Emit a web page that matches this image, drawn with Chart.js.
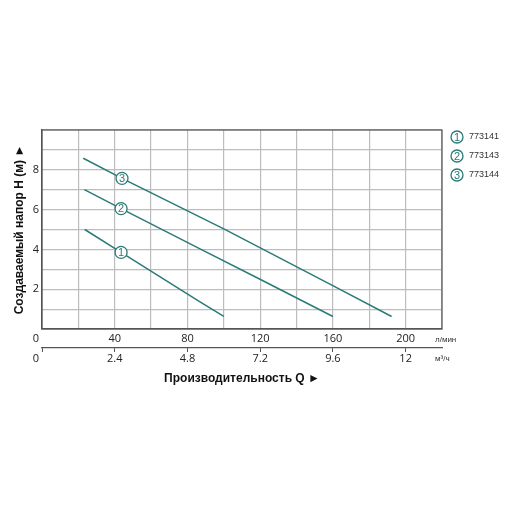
<!DOCTYPE html>
<html>
<head>
<meta charset="utf-8">
<script src="https://cdn.jsdelivr.net/npm/chart.js@4/dist/chart.umd.min.js"></script>
<style>
  html, body { margin: 0; padding: 0; background: #fff; }
</style>
</head>
<body>
<canvas id="pumpChart" width="512" height="512"></canvas>
<script>
const models = ["773141", "773143", "773144"];

// расход, л/мин и напор, м (читано с графика)
const q1 = [23.5, 43.5, 86.9, 100];
const h1 = [5.0, 3.85, 1.36, 0.63];
const q2 = [23.3, 43.5, 86.9, 119.9, 160];
const h2 = [7.0, 6.05, 4.03, 2.5, 0.63];
const q3 = [22.7, 44, 100, 160.2, 192.3];
const h3 = [8.58, 7.57, 5.03, 2.17, 0.63];

const lpmTicks = [40, 80, 120, 160, 200];
const m3hTicks = [0, 2.4, 4.8, 7.2, 9.6, 12];
const headTicks = [2, 4, 6, 8];
const markerQ = [43.5, 43.5, 44];

const teal = "#2a7a78";
const curves = [[q1, h1], [q2, h2], [q3, h3]];

function toPoints(q, h) {
  return q.map((v, i) => ({ x: v, y: h[i] }));
}

// y on the curve at given q, only to put the number circle on the line
function yAt(q, h, x) {
  for (let i = 0; i < q.length - 1; i++) {
    if (x >= q[i] && x <= q[i + 1]) {
      return h[i] + (h[i + 1] - h[i]) * (x - q[i]) / (q[i + 1] - q[i]);
    }
  }
  return h[0];
}

function numCircle(ctx, x, y, n) {
  ctx.beginPath();
  ctx.arc(x, y, 6, 0, Math.PI * 2);
  ctx.fillStyle = "#fff";
  ctx.fill();
  ctx.lineWidth = 1.3;
  ctx.strokeStyle = teal;
  ctx.stroke();
  ctx.fillStyle = teal;
  ctx.font = "11px 'Liberation Sans', Arial, sans-serif";
  ctx.textAlign = "center";
  ctx.textBaseline = "middle";
  ctx.fillText(String(n), x, y + 0.5);
}

const extras = {
  id: "extras",
  afterDatasetsDraw(chart) {
    const { ctx, chartArea, scales } = chart;
    ctx.save();
    // рамка поля
    ctx.strokeStyle = "#555";
    ctx.lineWidth = 1.2;
    ctx.strokeRect(chartArea.left, chartArea.top, chartArea.right - chartArea.left, chartArea.bottom - chartArea.top);

    curves.forEach((c, i) => {
      const qx = markerQ[i];
      numCircle(ctx, scales.x.getPixelForValue(qx), scales.y.getPixelForValue(yAt(c[0], c[1], qx)), i + 1);
    });

    // легенда
    models.forEach((m, i) => {
      const ly = chartArea.top + 7 + i * 19;
      numCircle(ctx, chartArea.right + 15, ly, i + 1);
      ctx.fillStyle = "#333";
      ctx.font = "9px 'Liberation Sans', Arial, sans-serif";
      ctx.textAlign = "left";
      ctx.textBaseline = "middle";
      ctx.fillText(m, chartArea.right + 27, ly);
    });

    // нули обеих шкал чуть левее оси
    ctx.fillStyle = "#222";
    ctx.font = "11px 'Open Sans', sans-serif";
    ctx.textAlign = "center";
    ctx.textBaseline = "middle";
    ctx.fillText("0", scales.x.getPixelForValue(0) - 6, chartArea.bottom + 10);
    ctx.fillText("0", scales.x2.getPixelForValue(0) - 6, chartArea.bottom + 30);

    // единицы
    ctx.fillStyle = "#333";
    ctx.font = "8px 'Liberation Sans', Arial, sans-serif";
    ctx.textAlign = "left";
    ctx.fillText("л/мин", chartArea.right - 7, chartArea.bottom + 11);
    ctx.fillText("м³/ч", chartArea.right - 7, chartArea.bottom + 30);
    ctx.restore();
  }
};

const tickFont = { family: "'Open Sans', sans-serif", size: 11 };
const titleFont = { family: "'Liberation Sans', 'DejaVu Sans', sans-serif", size: 12, weight: "bold" };

const ctx = document.getElementById("pumpChart").getContext("2d");
const chart = new Chart(ctx, {
  type: "line",
  data: {
    datasets: curves.map((c, i) => ({
      label: models[i],
      data: toPoints(c[0], c[1]),
      borderColor: teal,
      borderWidth: 1.5,
      pointRadius: 0,
      tension: 0,
      fill: false,
    })),
  },
  options: {
    responsive: false,
    animation: false,
    layout: { padding: { top: 130, right: 70, bottom: 126, left: 0 } },
    plugins: { legend: { display: false }, tooltip: { enabled: false } },
    scales: {
      x: {
        type: "linear",
        position: "bottom",
        min: 0,
        max: 220,
        afterFit: (s) => { s.height = 19; },
        ticks: {
          stepSize: 20,
          autoSkip: false,
          maxRotation: 0,
          color: "#222",
          font: tickFont,
          padding: 3,
          callback: (v) => (lpmTicks.includes(v) ? v : ""),
        },
        grid: { color: "#bdbdbd", lineWidth: 1.2, drawTicks: false },
        border: { color: "#555", width: 1.2 },
      },
      x2: {
        type: "linear",
        position: "bottom",
        min: 0,
        max: 13.2,
        afterFit: (s) => { s.height = 38; },
        afterBuildTicks: (s) => { s.ticks = m3hTicks.map((v) => ({ value: v })); },
        ticks: {
          autoSkip: false,
          maxRotation: 0,
          color: "#222",
          font: tickFont,
          padding: 0,
          callback: (v) => (v === 0 ? "" : String(v)),
        },
        grid: { drawOnChartArea: false, drawTicks: true, tickLength: 4, color: "#555", lineWidth: 1 },
        border: { color: "#555", width: 1.2 },
        title: {
          display: true,
          text: "Производительность Q ►",
          color: "#111",
          font: titleFont,
          padding: { top: 2, bottom: 0 },
        },
      },
      y: {
        min: 0,
        max: 10,
        afterFit: (s) => { s.width = 42; },
        ticks: {
          stepSize: 1,
          color: "#222",
          font: tickFont,
          padding: 3,
          callback: (v) => (headTicks.includes(v) ? v : ""),
        },
        grid: { color: "#bdbdbd", lineWidth: 1.2, drawTicks: false },
        border: { color: "#555", width: 1.2 },
        title: {
          display: true,
          text: "Создаваемый напор H (м) ►",
          color: "#111",
          font: titleFont,
          padding: { top: 12, bottom: 0 },
        },
      },
    },
  },
  plugins: [extras],
});
</script>
</body>
</html>
